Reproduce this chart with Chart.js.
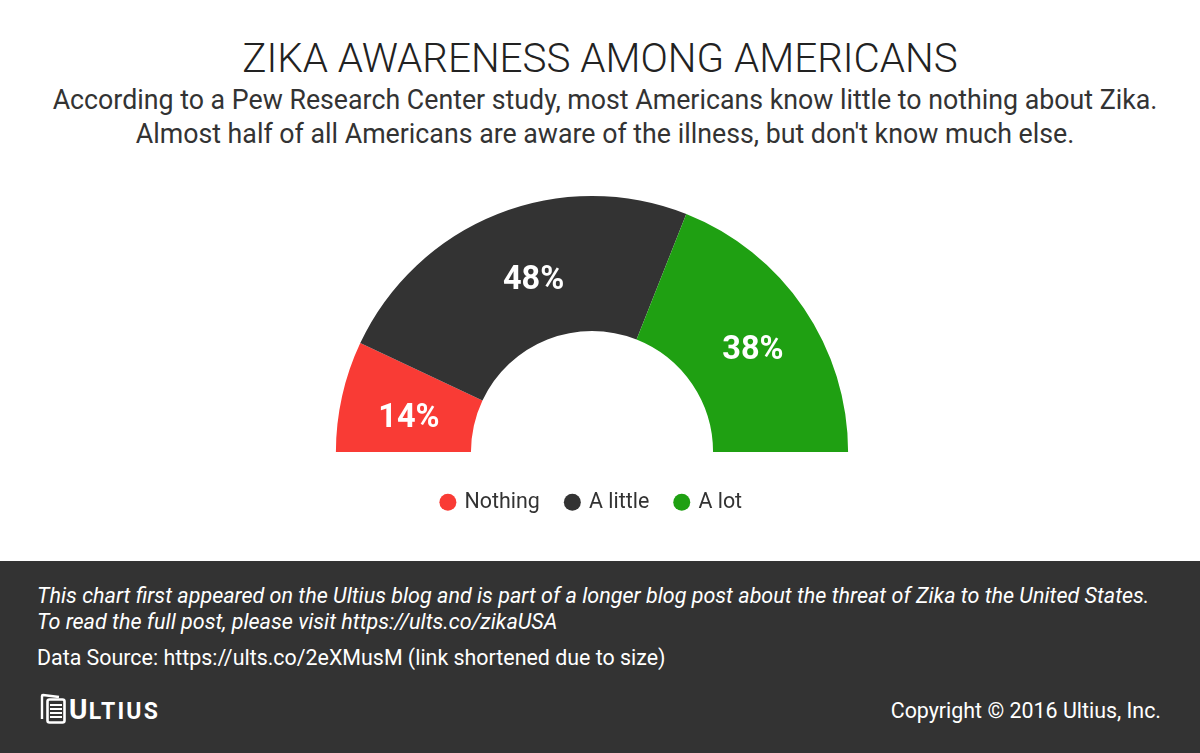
<!DOCTYPE html>
<html lang="en">
<head>
<meta charset="UTF-8" />
<title>Zika Awareness Among Americans</title>
<script src="https://cdn.jsdelivr.net/npm/chart.js@4"></script>
<style>
  html, body { margin: 0; padding: 0; background: #fff; }
  body { position: relative; width: 1200px; height: 753px; overflow: hidden; font-family: Roboto, sans-serif; color: #333; }
  .txt { position: absolute; white-space: nowrap; }
  .center { left: 0; width: 1184px; text-align: center; }
  #chart-wrap { position: absolute; left: 192px; top: 180px; width: 800px; height: 350px; }
  #footer { position: absolute; left: 0; top: 561px; width: 1200px; height: 192px; background: #333; color: #fff; }
  #footer .txt { font-size: 21.4px; line-height: 26px; }
  #footer .note { font-size: 21.55px; font-style: italic; }
</style>
</head>
<body>
  <div class="txt" style="left:0;width:1200px;text-align:center;top:37px;font-size:40.4px;line-height:44px;font-weight:300;color:#222;">ZIKA AWARENESS AMONG AMERICANS</div>
  <div class="txt center" style="left:13px;top:83px;font-size:26.75px;line-height:34px;">According to a Pew Research Center study, most Americans know little to nothing about Zika.</div>
  <div class="txt center" style="left:13px;top:117px;font-size:26.75px;line-height:34px;">Almost half of all Americans are aware of the illness, but don't know much else.</div>

  <div id="chart-wrap"><canvas id="chart" width="800" height="350"></canvas></div>

  <div id="footer">
    <div class="txt note" style="left:37px;top:22px;">This chart first appeared on the Ultius blog and is part of a longer blog post about the threat of Zika to the United States.</div>
    <div class="txt note" style="left:37px;top:48px;">To read the full post, please visit https://ults.co/zikaUSA</div>
    <div class="txt" style="left:37px;top:84px;">Data Source: https://ults.co/2eXMusM (link shortened due to size)</div>
    <svg style="position:absolute;left:39px;top:132px;" width="30" height="32" viewBox="0 0 30 32" fill="none" stroke="#fff">
      <path d="M3 26 V3 Q3 2 4 2 L20 4" stroke-width="2.4"/>
      <rect x="8.5" y="6.5" width="17" height="23" rx="2" stroke-width="2.6"/>
      <path d="M11 12 H23 M11 16 H23 M11 20 H23 M11 24 H23" stroke-width="1.8"/>
    </svg>
    <div class="txt" style="left:69px;top:133px;font-size:28px;line-height:32px;font-weight:700;letter-spacing:1.4px;">U<span style="font-size:23px;letter-spacing:2.2px;">LTIUS</span></div>
    <div class="txt" style="right:39px;top:137px;">Copyright © 2016 Ultius, Inc.</div>
  </div>

<script>
// data
const categories = ["Nothing", "A little", "A lot"];
const awareness = [14, 48, 38];
const sliceColors = ["#f93b35", "#333333", "#1fa012"];

// value labels on the slices, a little off the arc centre like the original
const labelNudge = [[1, 8], [11, 4], [5, 5]];
const sliceLabels = {
  id: "sliceLabels",
  afterDatasetsDraw(chart) {
    const { ctx } = chart;
    chart.getDatasetMeta(0).data.forEach((arc, i) => {
      const pos = arc.tooltipPosition();
      ctx.save();
      ctx.fillStyle = "#fff";
      ctx.font = "700 32.5px Roboto, sans-serif";
      ctx.textAlign = "center";
      ctx.textBaseline = "middle";
      ctx.fillText(awareness[i] + "%", pos.x + labelNudge[i][0], pos.y + labelNudge[i][1]);
      ctx.restore();
    });
  },
};

// legend sits lower than its padding would put it
const legendDrop = {
  id: "legendDrop",
  afterLayout(chart) {
    chart.legend.top += 13;
    chart.legend.bottom += 13;
  },
};

new Chart(document.getElementById("chart"), {
  type: "doughnut",
  data: {
    labels: categories,
    datasets: [{
      data: awareness,
      backgroundColor: sliceColors,
      borderWidth: 0,
    }],
  },
  options: {
    responsive: false,
    animation: false,
    rotation: -90,
    circumference: 180,
    cutout: "47.27%",
    radius: "100%",
    layout: { padding: { top: 16, bottom: 20 } },
    plugins: {
      tooltip: { enabled: false },
      legend: {
        position: "bottom",
        labels: {
          usePointStyle: true,
          pointStyle: "circle",
          boxWidth: 12,
          boxHeight: 12,
          padding: 26.5,
          color: "#333",
          font: { family: "Roboto, sans-serif", size: 21.4 },
        },
      },
    },
  },
  plugins: [sliceLabels, legendDrop],
});
</script>
</body>
</html>
